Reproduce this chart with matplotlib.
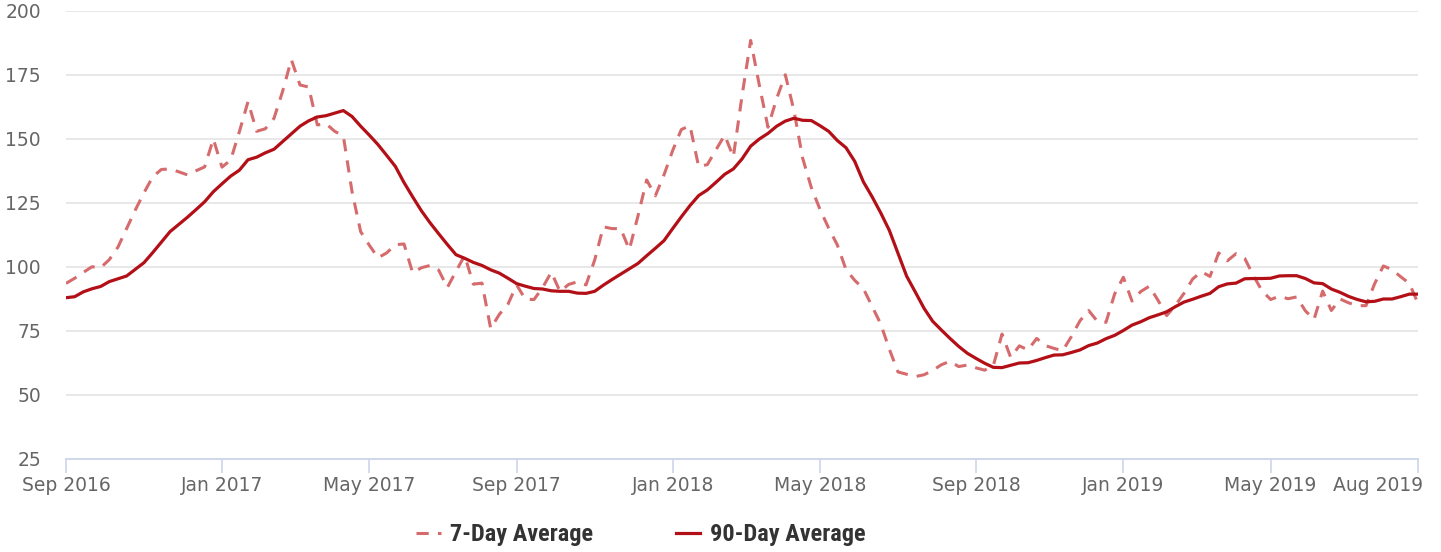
import matplotlib
matplotlib.use("Agg")
import matplotlib.pyplot as plt
from matplotlib import font_manager as fm
from matplotlib.lines import Line2D
import matplotlib.transforms as mtransforms
import numpy as np

# ---------------- data (weekly points, Sep 2016 - Aug 2019) ----------------
avg_7day = [
    93.6, 95.6, 97.9, 100.1, 99.7, 102.9, 107.8, 115.0, 122.3, 129.0,
    135.2, 138.1, 138.3, 137.2, 136.0, 137.6, 139.1, 150.0, 139.0, 141.8,
    152.8, 164.6, 153.0, 154.0, 158.1, 168.7, 181.0, 171.1, 170.3, 155.5,
    156.0, 153.0, 151.2, 129.5, 113.8, 108.5, 103.6, 105.5, 108.7, 109.0,
    97.7, 99.7, 100.6, 98.8, 92.0, 98.3, 104.5, 93.3, 93.7, 76.0,
    81.5, 85.5, 93.0, 87.4, 87.3, 92.0, 98.0, 90.4, 93.2, 94.2,
    93.0, 102.7, 115.7, 115.0, 115.0, 106.8, 120.0, 134.0, 127.8, 136.0,
    145.5, 153.7, 155.2, 139.2, 140.0, 145.8, 151.5, 143.0, 166.8, 188.5,
    171.0, 154.6, 165.8, 175.1, 161.0, 142.5, 131.0, 122.5, 115.2, 108.6,
    99.0, 94.8, 91.6, 84.7, 77.8, 67.9, 59.0, 58.1, 57.2, 57.9,
    59.6, 61.8, 63.2, 61.1, 61.7, 60.6, 59.7, 61.5, 73.8, 64.7,
    69.2, 67.6, 72.1, 69.3, 68.2, 67.3, 72.8, 79.0, 83.0, 78.8,
    78.4, 89.5, 96.0, 86.7, 90.4, 92.5, 87.0, 81.0, 85.0, 89.7,
    95.3, 98.2, 96.3, 105.5, 102.4, 105.2, 103.4, 96.7, 90.7, 87.3,
    88.6, 87.6, 88.3, 82.9, 79.5, 90.6, 83.0, 87.5, 86.0, 84.9,
    84.9, 93.5, 100.4, 99.0, 96.2, 93.6, 85.8,
]

avg_90day = [
    88.0, 88.4, 90.3, 91.5, 92.4, 94.3, 95.4, 96.5, 99.1, 101.7,
    105.6, 109.7, 113.8, 116.6, 119.4, 122.4, 125.5, 129.4, 132.5, 135.5,
    137.8, 141.9, 142.9, 144.6, 146.0, 149.0, 152.0, 155.0, 157.1, 158.6,
    159.1, 160.1, 161.1, 158.8, 155.0, 151.5, 147.8, 143.6, 139.3, 133.0,
    127.4, 122.0, 117.3, 113.0, 108.8, 104.8, 103.4, 101.8, 100.6, 98.9,
    97.6, 95.6, 93.5, 92.5, 91.6, 91.4, 90.7, 90.5, 90.5, 89.8,
    89.7, 90.5, 92.9, 95.1, 97.2, 99.3, 101.4, 104.4, 107.3, 110.3,
    115.0, 119.6, 124.0, 127.9, 130.1, 133.1, 136.2, 138.3, 142.2, 147.2,
    150.0, 152.2, 155.0, 157.0, 158.1, 157.3, 157.2, 155.2, 153.0, 149.4,
    146.6, 141.3, 133.3, 127.5, 121.2, 114.3, 105.3, 96.4, 90.2, 83.9,
    78.8, 75.4, 72.1, 69.0, 66.3, 64.3, 62.4, 60.8, 60.7, 61.6,
    62.5, 62.6, 63.5, 64.6, 65.6, 65.7, 66.6, 67.6, 69.3, 70.3,
    72.0, 73.3, 75.2, 77.3, 78.6, 80.2, 81.3, 82.5, 84.5, 86.3,
    87.4, 88.6, 89.7, 92.3, 93.4, 93.7, 95.4, 95.5, 95.5, 95.6,
    96.5, 96.6, 96.6, 95.5, 93.8, 93.5, 91.4, 90.1, 88.5, 87.3,
    86.4, 86.6, 87.5, 87.5, 88.4, 89.4, 89.4,
]

tick_weeks = [0, 18, 35, 52, 70, 87, 105, 122, 139, 156]
tick_labels = ["Sep 2016", "Jan 2017", "May 2017", "Sep 2017", "Jan 2018",
               "May 2018", "Sep 2018", "Jan 2019", "May 2019", "Aug 2019"]
y_ticks = [25, 50, 75, 100, 125, 150, 175, 200]
series_names = ["7-Day Average", "90-Day Average"]

# ---------------- style ----------------
c7 = "#d66b6d"
c90 = "#b30f17"
grid_c = "#e6e6e6"
axis_c = "#ccd6eb"
label_c = "#666666"


def pick_font(names):
    for n in names:
        try:
            fm.findfont(fm.FontProperties(family=n, weight="bold"),
                        fallback_to_default=False)
            return n
        except Exception:
            pass
    return "DejaVu Sans"


legend_font = pick_font(["Roboto Condensed", "Liberation Sans Narrow", "Roboto"])
legend_size = 17.5 if legend_font in ("Liberation Sans Narrow", "Roboto Condensed") else 15.5

fig = plt.figure(figsize=(14.41, 5.52), dpi=100)
ax = fig.add_axes([66 / 1441, 1 - 459 / 552, 1352 / 1441, 448 / 552])

x = np.arange(len(avg_90day))
ax.plot(x, avg_7day, color=c7, lw=2.2, dashes=(4, 3), zorder=3)
ax.plot(x, avg_90day, color=c90, lw=2.3, zorder=4, solid_joinstyle="round")

ax.set_xlim(0, len(avg_90day) - 1)
ax.set_ylim(25, 200)
ax.set_yticks(y_ticks)
ax.set_xticks(tick_weeks)
ax.set_xticklabels(tick_labels)

for v in y_ticks[1:]:
    ax.axhline(v, color=grid_c, lw=1.3, zorder=1)

for s in ["top", "right", "left"]:
    ax.spines[s].set_visible(False)
ax.spines["bottom"].set_color(axis_c)
ax.spines["bottom"].set_linewidth(1.3)
ax.spines["bottom"].set_zorder(2)

ax.tick_params(axis="y", length=0, pad=18, labelsize=13.5, labelcolor=label_c)
ax.tick_params(axis="x", length=10, width=1.2, color=axis_c, pad=2,
               labelsize=13.5, labelcolor=label_c)

# keep the last x label inside the figure (as the reference does)
last = ax.get_xticklabels()[-1]
last.set_horizontalalignment("right")
last.set_transform(last.get_transform() +
                   mtransforms.ScaledTranslation(5 / 100, 0, fig.dpi_scale_trans))

handles = [Line2D([0], [0], color=c7, lw=2.2, dashes=(4, 3)),
           Line2D([0], [0], color=c90, lw=2.3)]
leg = fig.legend(handles, series_names, loc="center",
                 bbox_to_anchor=(641 / 1441, 1 - 535 / 552), ncol=2, frameon=False,
                 handlelength=1.0, handletextpad=0.4, columnspacing=3.4,
                 prop=fm.FontProperties(family=legend_font, weight="bold",
                                        size=legend_size))
for t in leg.get_texts():
    t.set_color("#333333")

fig.savefig("out.png", dpi=100)
